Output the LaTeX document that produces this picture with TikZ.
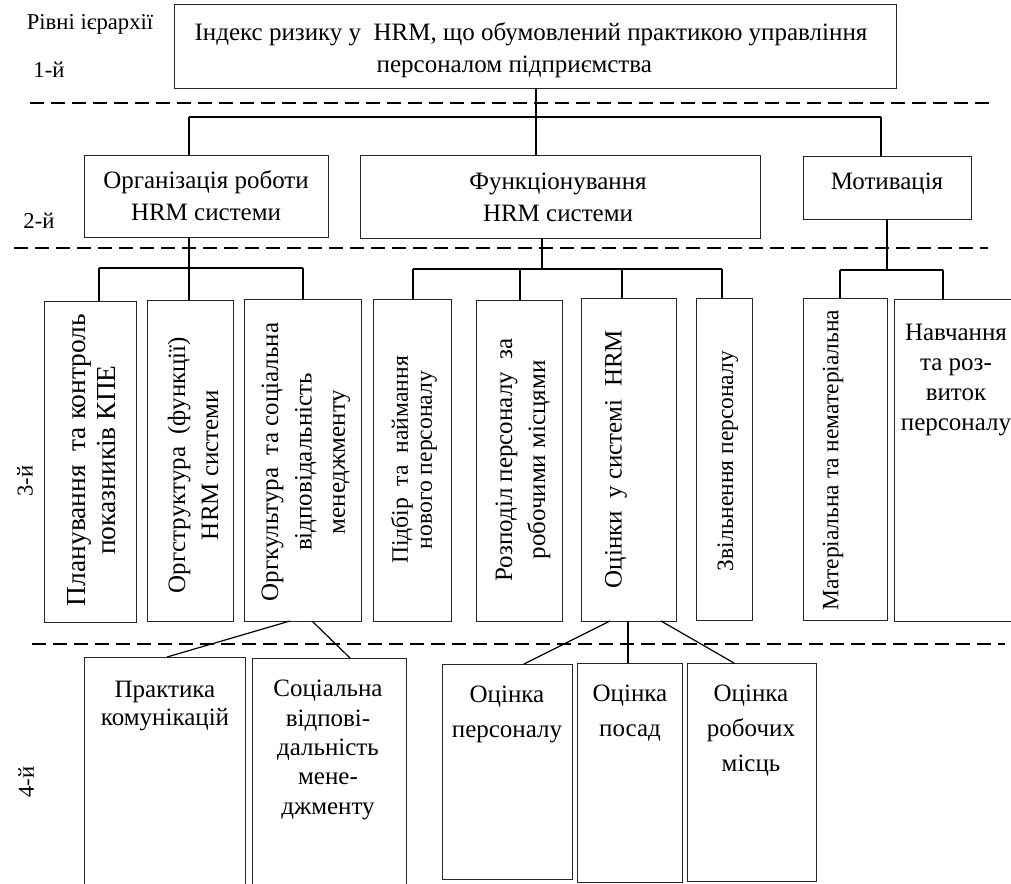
\documentclass[tikz,border=0pt]{standalone}
\usepackage{fontspec}
\setmainfont{Liberation Serif}
\usetikzlibrary{calc}
\newcommand\mkbox[5]{%
  \pgfmathsetmacro\mybw{(#4-#2)*0.75}%
  \pgfmathsetmacro\mybh{(#5-#3)*0.75}%
  \node[box, minimum width=\mybw pt, minimum height=\mybh pt] (#1) at ({(#2+#4)/2},{(#3+#5)/2}) {};}
\begin{document}
\begin{tikzpicture}[x=0.75pt,y=-0.75pt,
  box/.style={draw=black!85, line width=0.6pt, inner sep=0pt, outer sep=0pt},
  conn/.style={line width=0.9pt, black},
  levelsep/.style={line width=0.8pt, dash pattern=on 10.5pt off 5.25pt},
  txt/.style={inner sep=0pt, outer sep=0pt, align=center, anchor=base},
  vt/.style={inner sep=0pt, outer sep=0pt, align=center, rotate=90},
  lbl/.style={inner sep=0pt, outer sep=0pt, font=\fontsize{17pt}{20pt}\selectfont}]
\useasboundingbox (0,0) rectangle (1011,883);
\clip (0,0) rectangle (1011,883);

% ---------- boxes ----------
\mkbox{top}{174}{4}{896}{88}
\mkbox{org}{84}{155}{328}{237}
\mkbox{func}{360}{155}{760}{238}
\mkbox{mot}{803}{156}{971}{219}
\mkbox{A}{44}{301}{136}{622}
\mkbox{B}{147}{300}{233}{621}
\mkbox{C}{244}{299}{361}{621}
\mkbox{D}{373}{299}{451}{621}
\mkbox{E}{476}{300}{562}{621}
\mkbox{F}{581}{298}{676}{621}
\mkbox{G}{696}{298}{752}{620}
\mkbox{H}{803}{298}{887}{620}
\mkbox{I}{894}{299}{1040}{621}
\mkbox{P}{84}{657}{245}{910}
\mkbox{S}{252}{658}{406}{910}
\mkbox{O1}{442}{664}{572}{879}
\mkbox{O2}{577}{663}{682}{882}
\mkbox{O3}{687}{663}{816}{881}

% ---------- level separators ----------
\coordinate (d1a) at (30,103);  \coordinate (d1b) at (991,103);
\coordinate (d2a) at (14,248);  \coordinate (d2b) at (988,248);
\coordinate (d3a) at (32,644);  \coordinate (d3b) at (1005,644);
\draw[levelsep] (d1a) -- (d1b);
\draw[levelsep] (d2a) -- (d2b);
\draw[levelsep] (d3a) -- (d3b);

% ---------- level labels ----------
\node[lbl, anchor=base] (l0) at (90,29) {Рівні ієрархії};
\node[lbl, anchor=base] (l1) at (49,77) {1-й};
\node[lbl, anchor=base] (l2) at (39,228) {2-й};
\node[lbl, rotate=90] (l3) at (25,481) {3-й};
\node[lbl, rotate=90] (l4) at (26,782) {4-й};

% ---------- texts (anchor = baseline of the last line) ----------
\node[txt, font=\fontsize{18.75pt}{24pt}\selectfont] (ttop) at (531,72)
  {Індекс ризику у\ \ HRM, що обумовлений практикою управління\\персоналом підприємства\hspace*{25pt}};
\node[txt, font=\fontsize{18.75pt}{24pt}\selectfont] (torg) at (206,220) {Організація роботи\\HRM системи};
\node[txt, font=\fontsize{18.75pt}{24pt}\selectfont] (tfunc) at (558,221) {Функціонування\\HRM системи};
\node[txt, font=\fontsize{18.75pt}{24pt}\selectfont] (tmot) at (887,189) {Мотивація};

\node[vt, font=\fontsize{20.6pt}{22.5pt}\selectfont] (tA) at (92,460) {Планування\ \ та контроль\\показників КПЕ};
\node[vt, font=\fontsize{18.75pt}{24.75pt}\selectfont] (tB) at (193,465) {Оргструктура\ \ (функції)\\HRM системи};
\node[vt, font=\fontsize{18.75pt}{25pt}\selectfont] (tC) at (306,462) {Оргкультура\ \ та соціальна\\відповідальність\\менеджменту};
\node[vt, font=\fontsize{17.7pt}{18pt}\selectfont] (tD) at (414,460) {Підбір\ \ та\ \ наймання\\нового персоналу};
\node[vt, font=\fontsize{18.75pt}{24.75pt}\selectfont] (tE) at (523,460) {Розподіл персоналу\ \ за\\робочими місцями};
\node[vt, font=\fontsize{18.75pt}{24pt}\selectfont] (tF) at (616,459) {Оцінки\ \ у системі\ \ HRM};
\node[vt, font=\fontsize{17.6pt}{20pt}\selectfont] (tG) at (728,461) {Звільнення персоналу};
\node[vt, font=\fontsize{17.6pt}{20pt}\selectfont] (tH) at (833,460) {Матеріальна та нематеріальна};

\node[txt, font=\fontsize{18.75pt}{22.5pt}\selectfont] (tI) at (956,430) {Навчання\\та роз-\\виток\\персоналу};
\node[txt, font=\fontsize{18.75pt}{21pt}\selectfont] (tP) at (165,725) {Практика\\комунікацій};
\node[txt, font=\fontsize{18.75pt}{22pt}\selectfont] (tS) at (328,814) {Соціальна\\відпові-\\дальність\\мене-\\джменту};
\node[txt, font=\fontsize{18.75pt}{26.25pt}\selectfont] (tO1) at (507,737) {Оцінка\\персоналу};
\node[txt, font=\fontsize{18.75pt}{26.25pt}\selectfont] (tO2) at (630,736) {Оцінка\\посад};
\node[txt, font=\fontsize{18.75pt}{26.25pt}\selectfont] (tO3) at (751,771) {Оцінка\\робочих\\місць};

% ---------- connectors level 1 -> 2 ----------
\coordinate (a1L) at (189,117); \coordinate (a1M) at (536,117); \coordinate (a1R) at (881,117);
\draw[conn] (a1L) -- (a1R);
\draw[conn] (a1L) -- (a1L |- org.north);
\draw[conn] (a1R) -- (a1R |- mot.north);
\draw[conn] (a1M |- top.south) -- (a1M |- func.north);

% ---------- connectors level 2 -> 3 ----------
\coordinate (b1L) at (99,268); \coordinate (b1M) at (189,268); \coordinate (b1R) at (303,268);
\draw[conn] (b1M |- org.south) -- (b1M);
\draw[conn] (b1L) -- (b1R);
\draw[conn] (b1L) -- (b1L |- A.north);
\draw[conn] (b1M) -- (b1M |- B.north);
\draw[conn] (b1R) -- (b1R |- C.north);

\coordinate (b2L) at (413,269); \coordinate (b2E) at (520,269); \coordinate (b2M) at (542,269);
\coordinate (b2F) at (622,269); \coordinate (b2R) at (722,269);
\draw[conn] (b2M |- func.south) -- (b2M);
\draw[conn] (b2L) -- (b2R);
\draw[conn] (b2L) -- (b2L |- D.north);
\draw[conn] (b2E) -- (b2E |- E.north);
\draw[conn] (b2F) -- (b2F |- F.north);
\draw[conn] (b2R) -- (b2R |- G.north);

\coordinate (b3L) at (840,270); \coordinate (b3M) at (887,270); \coordinate (b3R) at (943,270);
\draw[conn] (b3M |- mot.south) -- (b3M);
\draw[conn] (b3L) -- (b3R);
\draw[conn] (b3L) -- (b3L |- H.north);
\draw[conn] (b3R) -- (b3R |- I.north);

% ---------- connectors level 3 -> 4 ----------
\draw[conn] ($(C.south)+(-12.5,0)$) -- ($(P.north)+(2.5,0)$);
\draw[conn] ($(C.south)+(9.5,0)$) -- ($(S.north)+(21,0)$);
\draw[conn] ($(F.south)+(-18.5,0)$) -- ($(O1.north)+(17,0)$);
\draw[conn] ($(F.south)+(-0.5,0)$) -- ($(O2.north)+(-1.5,0)$);
\draw[conn] ($(F.south)+(32.5,0)$) -- ($(O3.north)+(-17.5,0)$);
\end{tikzpicture}
\end{document}
